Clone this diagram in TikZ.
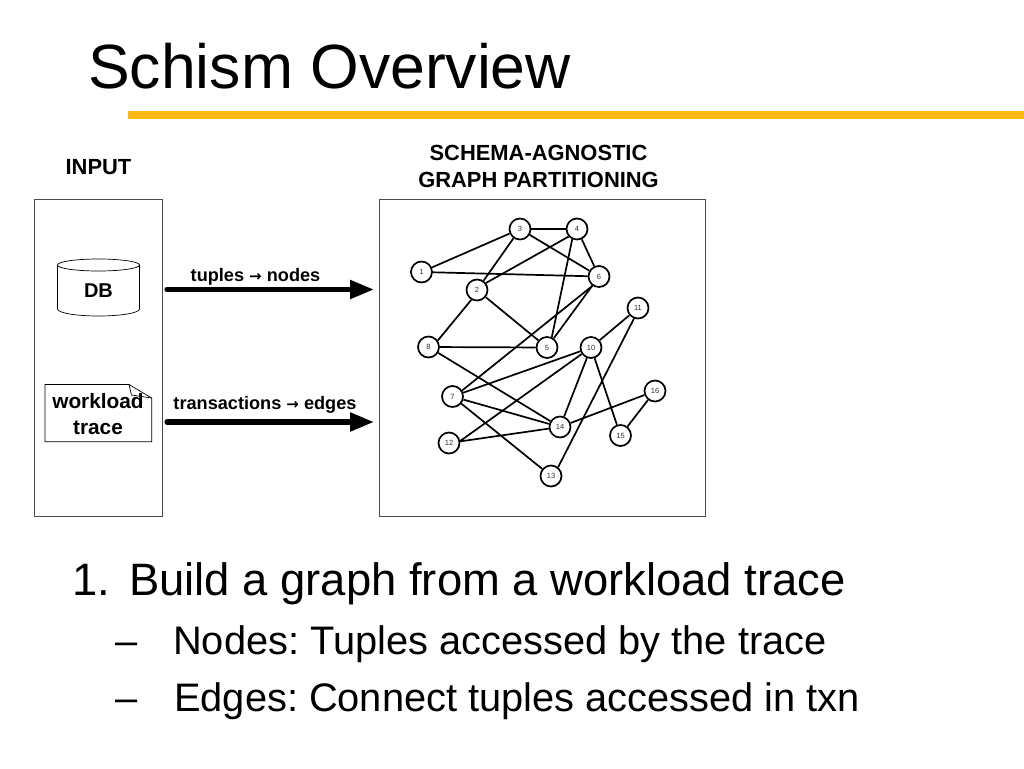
\documentclass[tikz,border=0pt]{standalone}
\usepackage{fontspec}
\setmainfont{Liberation Sans}
\newfontfamily\symfont{DejaVu Sans}
\usetikzlibrary{arrows.meta}
\definecolor{rulegold}{HTML}{FDB913}
\frenchspacing
\tikzset{
  gnode/.style={circle,draw=black,line width=1.7pt,fill=white,minimum size=21pt,inner sep=0pt,font=\fontsize{7.5}{8}\selectfont,text=black!80},
  gedge/.style={line width=1.7pt,black},
  panel/.style={draw=black!70,line width=0.8pt,fill=white},
  blabel/.style={font=\fontsize{21.9}{26.5}\selectfont\bfseries,align=center,inner sep=0pt},
  flabel/.style={font=\fontsize{18.15}{22}\selectfont\bfseries,align=center,inner sep=0pt},
  bigarrow/.style={line width=5.2pt,line cap=round,-{Triangle[length=24pt,width=18pt]}},
  bodytext/.style={anchor=base west,inner sep=0pt,text=black}
}
\newcommand{\mapsarrow}{{\symfont\fontsize{15}{17}\selectfont →}}
\begin{document}
\begin{tikzpicture}[x=1pt,y=-1pt]
\useasboundingbox (0,0) rectangle (1024,768);
\fill[white] (0,0) rectangle (1024,768);
\node[bodytext,font=\fontsize{62.5}{70}\selectfont] (title) at (88,88.5) {Schism Overview};
\fill[rulegold] (128,111) rectangle (1024,119);
\node[blabel] (inlabel) at (98.5,167) {INPUT};
\node[blabel] (gplabel) at (538.5,166.5) {SCHEMA-AGNOSTIC\\GRAPH PARTITIONING};
\node[panel,minimum width=127.5pt,minimum height=316.5pt,inner sep=0pt] (inbox) at (98.3,358) {};
\node[panel,minimum width=325.5pt,minimum height=316.5pt,inner sep=0pt] (gpbox) at (542.5,358) {};
% database cylinder
\draw[line width=0.7pt,fill=white] (57.5,265) -- (57.5,309) arc[start angle=180,end angle=0,x radius=41,y radius=7] -- (139.5,265) -- cycle;
\draw[line width=0.7pt,fill=white] (98.5,265) ellipse[x radius=41,y radius=6];
\node[flabel,font=\fontsize{20}{24}\selectfont\bfseries] (db) at (98.5,291) {DB};
% workload trace note
\draw[line width=0.7pt,fill=white] (45,384.5) -- (129,384.5) -- (151.7,398) -- (151.7,441.7) -- (45,441.7) -- cycle;
\draw[line width=0.7pt] (129,384.5) -- (131.5,395) -- (151.7,398);
\node[font=\fontsize{20.8}{25.5}\selectfont\bfseries,align=center,inner sep=0pt] (wt) at (98,414) {workload\\trace};
% big arrows
\coordinate (a1s) at (167,289.5); \coordinate (a2s) at (167,422);
\coordinate (a1e) at (374,289.5); \coordinate (a2e) at (374,422);
\draw[bigarrow] (a1s) -- (a1e);
\draw[bigarrow] (a2s) -- (a2e);
\node[flabel] (l1) at (255.5,277) {tuples \mapsarrow\ nodes};
\node[flabel] (l2) at (265,405) {transactions \mapsarrow\ edges};
% graph
\node[gnode] (n1) at (421.5,272) {1};
\node[gnode] (n2) at (477,290) {2};
\node[gnode] (n3) at (520,229) {3};
\node[gnode] (n4) at (577,229) {4};
\node[gnode] (n5) at (547,347.5) {5};
\node[gnode] (n6) at (599,276.5) {6};
\node[gnode] (n7) at (452.5,396.5) {7};
\node[gnode] (n8) at (428.5,347) {8};
\node[gnode] (n10) at (591,347.5) {10};
\node[gnode] (n11) at (638,308) {11};
\node[gnode] (n12) at (449,443) {12};
\node[gnode] (n13) at (551,476) {13};
\node[gnode] (n14) at (560,427) {14};
\node[gnode] (n15) at (620.5,435.5) {15};
\node[gnode] (n16) at (655,391) {16};
\foreach \a/\b in {1/3,1/6,3/4,3/2,3/6,4/6,2/5,6/5,8/5,8/14,10/11,10/7,10/14,10/15,7/14,7/13,12/14,14/16,15/16}
  \draw[gedge] (n\a) -- (n\b);
\draw[gedge] (n6.235) -- (n7.32);
\draw[gedge] (n4.245) -- (n5.65);
\draw[gedge] (n4.222) -- (n2.38);
\draw[gedge] (n2.240) -- (n8.35);
\draw[gedge] (n11.249) -- (n13.51);
\draw[gedge] (n10.215) -- (n12.10);
% body
\node[bodytext,font=\fontsize{45.4}{54}\selectfont] (b1n) at (72,595) {1.};
\node[bodytext,font=\fontsize{45.4}{54}\selectfont] (b1) at (129,595) {Build a graph from a workload trace};
\node[bodytext,font=\fontsize{39.8}{48}\selectfont] (d2) at (115,654) {–};
\node[bodytext,font=\fontsize{39.8}{48}\selectfont] (b2) at (173,654) {Nodes: Tuples accessed by the trace};
\node[bodytext,font=\fontsize{39.8}{48}\selectfont] (d3) at (115,711) {–};
\node[bodytext,font=\fontsize{39.8}{48}\selectfont] (b3) at (174,711) {Edges: Connect tuples accessed in txn};
\end{tikzpicture}
\end{document}
